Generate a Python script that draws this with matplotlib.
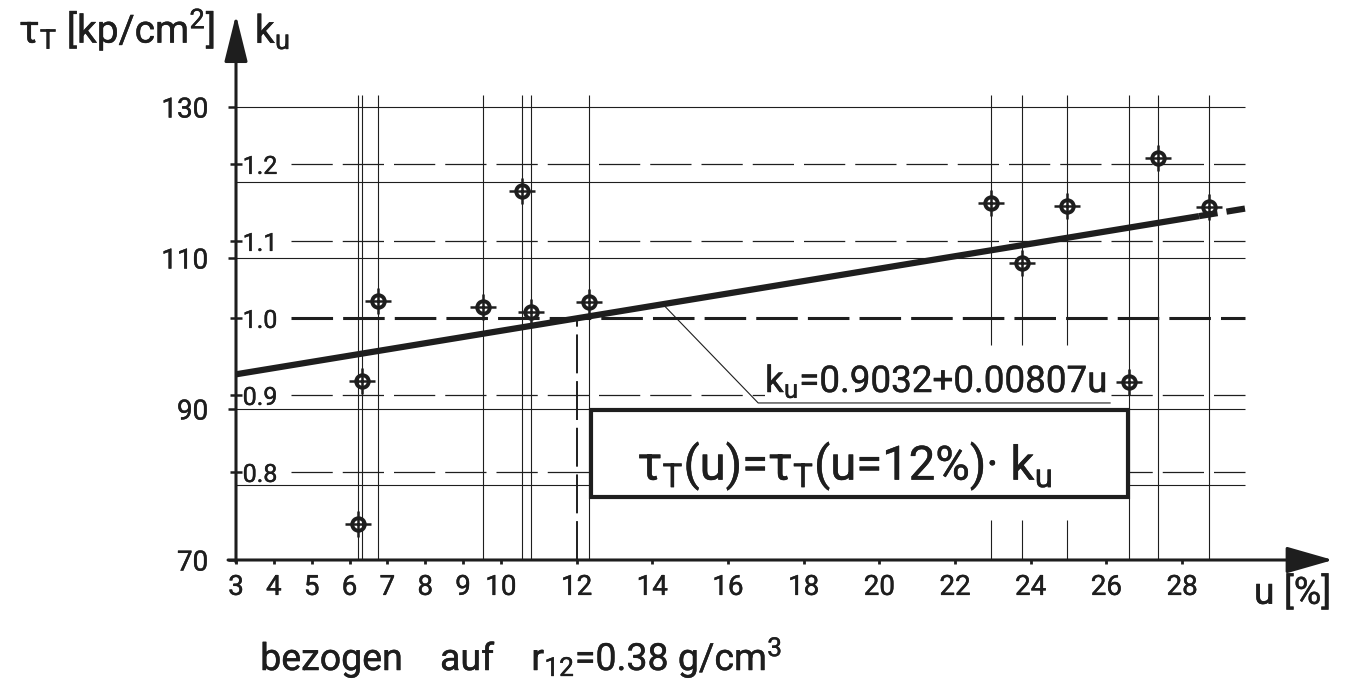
import numpy as np
import matplotlib
matplotlib.use('Agg')
import matplotlib.pyplot as plt
import matplotlib.patheffects as pe
from matplotlib.patches import Rectangle

plt.rcParams['font.family'] = ['Roboto', 'DejaVu Sans']
plt.rcParams['mathtext.default'] = 'regular'

INK = '#1e1e1e'

# Messpunkte: Holzfeuchte u [%] und Scherfestigkeit tau_T [kp/cm2]
u_mess = [6.22, 6.33, 6.75, 9.53, 10.56, 10.80, 12.33, 22.95, 23.77, 24.96, 26.60, 27.37, 28.71]
tau_mess = [74.8, 93.7, 104.3, 103.5, 118.9, 102.8, 104.2, 117.3, 109.3, 116.9, 93.6, 123.2, 116.8]
# Loten, die im Bereich der Beschriftung unterbrochen sind
u_unterbrochen = [22.95, 23.77, 24.96]

# Ausgleichsgerade k_u = a + b*u, Bezugswert tau_T bei u = 12 %
k_a = 0.9032
k_b = 0.00807
tau_12 = 102.0

x_ticks = [3, 4, 5, 6, 7, 8, 9, 10, 12, 14, 16, 18, 20, 22, 24, 26, 28]
tau_ticks = [70, 90, 110, 130]
tau_grid = [80, 90, 110, 120, 130]
k_grid = [0.8, 0.9, 1.0, 1.1, 1.2]

# Massstab: Pixel je Einheit
W, H = 1361, 686
x0, px_u = 236, 37.84
y0, px_tau = 560, 7.55
right_px, top_px = 1345, 8

fig = plt.figure(figsize=(W / 100, H / 100), dpi=100)
ax = fig.add_axes([x0 / W, (H - y0) / H, (right_px - x0) / W, (y0 - top_px) / H])
ax.set_xlim(3, 3 + (right_px - x0) / px_u)
ax.set_ylim(70, 70 + (y0 - top_px) / px_tau)
for s in ax.spines.values():
    s.set_visible(False)

u_end = 29.67
# Gitter
ax.hlines(tau_grid, 3, u_end, color=INK, lw=0.8, zorder=1)
for k in k_grid:
    if k == 1.0:
        ax.plot([4.45, u_end], [k * tau_12] * 2, color=INK, lw=2.2, dashes=(13.6, 3.3), zorder=1)
    else:
        ax.plot([4.45, u_end], [k * tau_12] * 2, color=INK, lw=0.9, dashes=(33, 8), zorder=1)

u_voll = [u for u in u_mess if u not in u_unterbrochen]
ax.vlines(u_voll, 70, 131.6, color=INK, lw=0.8, zorder=1)
ax.vlines(u_unterbrochen, 98.5, 131.6, color=INK, lw=0.8, zorder=1)
ax.vlines(u_unterbrochen, 70, 75.3, color=INK, lw=0.8, zorder=1)

# Bezugslinie bei u = 12 %
ax.plot([12, 12], [70, tau_12], color=INK, lw=1.4, dashes=(20, 4), zorder=2)

# Ausgleichsgerade
u_fit = np.array([3, 28.45])
ax.plot(u_fit, tau_12 * (k_a + k_b * u_fit), color=INK, lw=4.5, solid_capstyle='butt', zorder=3)
u_ext = np.array([28.45, 29.75])
ax.plot(u_ext, tau_12 * (k_a + k_b * u_ext), color=INK, lw=4.5, ls=(0, (3.0, 1.45)),
        dash_capstyle='butt', zorder=3)

# Messpunkte
ax.plot(u_mess, tau_mess, ls='none', marker='o', ms=9, mfc='none', mec=INK, mew=2.8, zorder=8)
ax.plot(u_mess, tau_mess, ls='none', marker='+', ms=19, mec=INK, mew=1.8, zorder=8)

# Achsen mit Pfeilen
ax.annotate('', xy=(3, 142.2), xytext=(3, 69.7),
            arrowprops=dict(arrowstyle='-|>,head_length=2.9,head_width=0.72', mutation_scale=10,
                            lw=2.2, color=INK, shrinkA=0, shrinkB=0), annotation_clip=False)
ax.annotate('', xy=(31.99, 70), xytext=(2.79, 70),
            arrowprops=dict(arrowstyle='-|>,head_length=2.9,head_width=0.83', mutation_scale=10,
                            lw=2.2, color=INK, shrinkA=0, shrinkB=0), annotation_clip=False)

ax.set_xticks(x_ticks)
ax.set_xticklabels([str(t) for t in x_ticks])
ax.tick_params(axis='x', direction='out', length=3, width=2, pad=7, labelsize=20, colors=INK)
ax.set_yticks(tau_ticks)
ax.set_yticklabels([str(t) for t in tau_ticks])
ax.tick_params(axis='y', direction='out', length=6, width=1.8, pad=14, labelsize=20, colors=INK)

sec = ax.secondary_yaxis(0.0, functions=(lambda t: t / tau_12, lambda k: k * tau_12))
sec.set_alignment('right')
sec.set_yticks(k_grid)
sec.set_yticklabels([f'{k:.1f}' for k in k_grid])
sec.tick_params(direction='inout', length=8.6, width=1.8, pad=0.5, labelsize=18, colors=INK)
for s in sec.spines.values():
    s.set_visible(False)

# Beschriftungen
ax.text(2.45, 138.5, r'$\tau_T$ [kp/cm$^2$]', fontsize=28, ha='right', va='baseline', color=INK)
ax.text(3.5, 138.5, r'$k_u$', fontsize=28, ha='left', va='baseline', color=INK)
ax.text(29.9, 64.2, 'u [%]', fontsize=27, ha='left', va='baseline', color=INK)
ax.text(3.64, 55.4, r'bezogen    auf    $r_{12}$=0.38 g/cm$^3$', fontsize=27,
        ha='left', va='baseline', color=INK)

# Gleichung der Geraden mit Hinweislinie
u_hin = 14.28
ax.plot([u_hin, 16.8, 26.1], [tau_12 * (k_a + k_b * u_hin), 90.8, 90.8], color=INK, lw=0.8, zorder=5)
ax.text(16.98, 92.25, r'$k_u$=0.9032+0.00807u', fontsize=26.5, ha='left', va='baseline', color=INK,
        zorder=4, bbox=dict(fc='white', ec='none', pad=0))

ax.add_patch(Rectangle((12.38, 78.3), 26.57 - 12.38, 89.9 - 78.3, fc='white', ec=INK, lw=3, zorder=6))
ax.text(19.1, 80.6, r'$\tau_T$(u)=$\tau_T$(u=12%)· $k_u$', fontsize=34, ha='center',
        va='baseline', color=INK, zorder=7)

# etwas kraeftigere Schrift, wie bei Schablonenbeschriftung
kontur = [pe.withStroke(linewidth=0.3, foreground=INK)]
for t in ax.texts + ax.get_xticklabels() + ax.get_yticklabels() + sec.get_yticklabels():
    t.set_path_effects(kontur)

fig.savefig('out.png', dpi=100, facecolor='white')
